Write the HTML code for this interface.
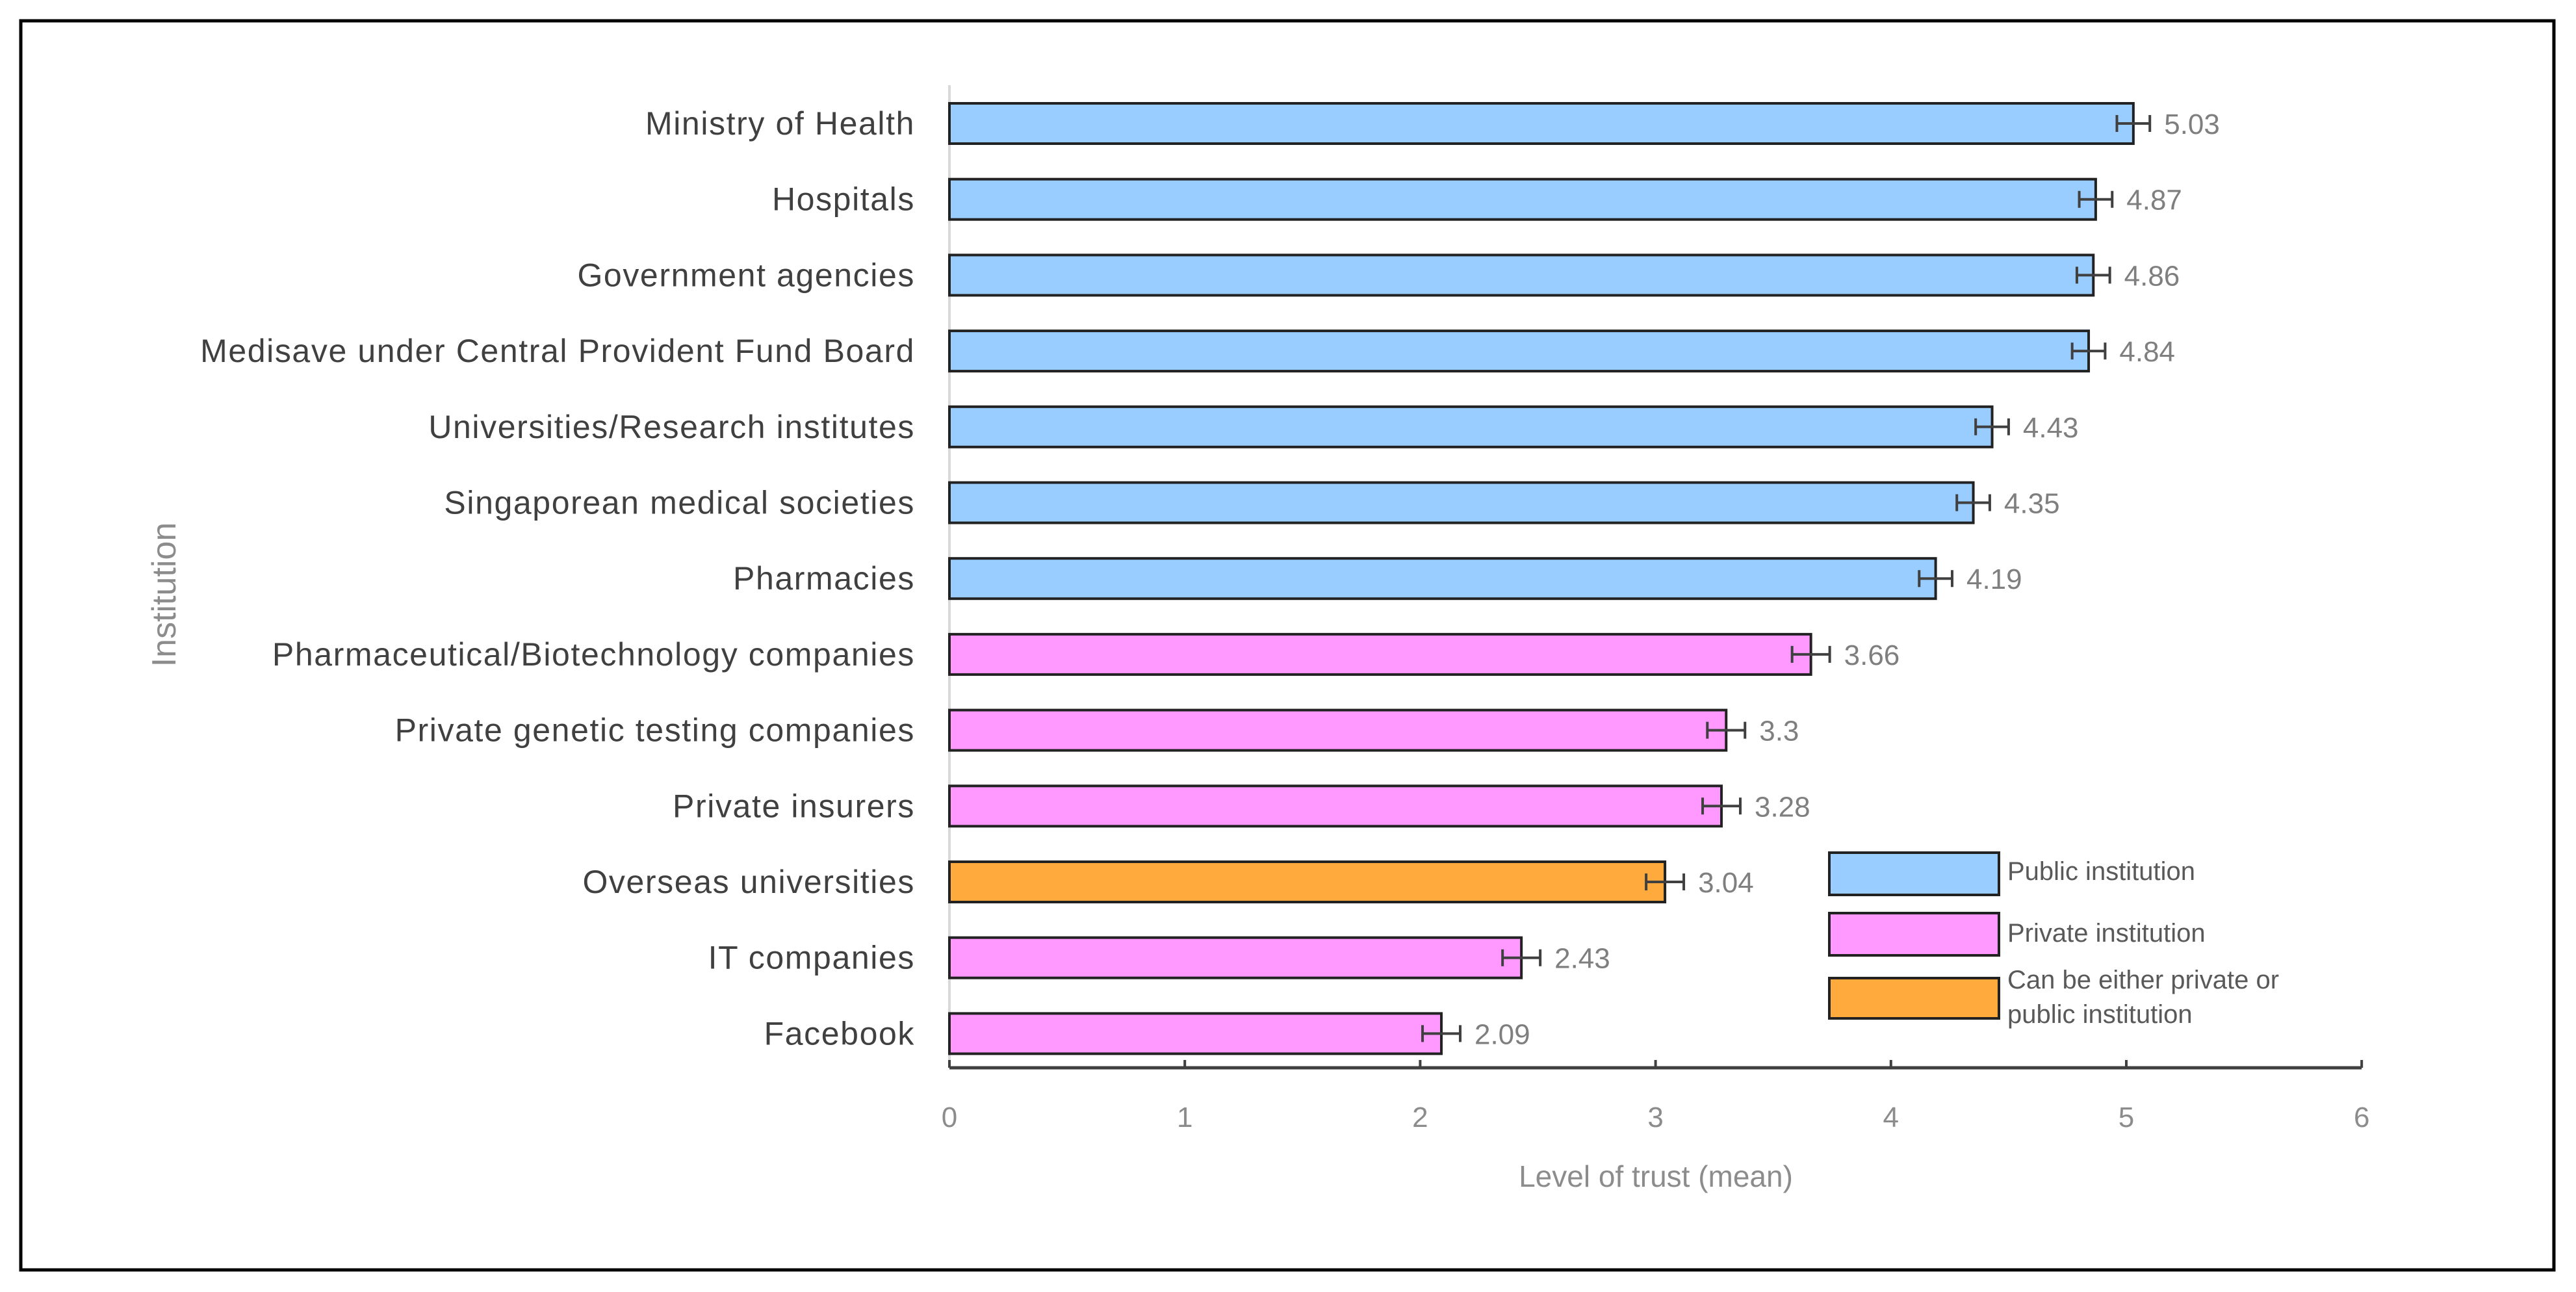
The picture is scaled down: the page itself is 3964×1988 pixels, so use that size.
<!DOCTYPE html>
<html><head><meta charset="utf-8"><style>
html,body{margin:0;padding:0;background:#fff;}
svg{display:block;font-family:"Liberation Sans",sans-serif;}
</style></head><body>
<svg id="chart" width="3964" height="1988" viewBox="0 0 3964 1988" xmlns="http://www.w3.org/2000/svg">
<rect x="32" y="32" width="3898" height="1922" fill="#fff" stroke="#000" stroke-width="5"/>
<g id="plot"></g>
</svg>
<script>
const categories = ["Ministry of Health","Hospitals","Government agencies","Medisave under Central Provident Fund Board","Universities/Research institutes","Singaporean medical societies","Pharmacies","Pharmaceutical/Biotechnology companies","Private genetic testing companies","Private insurers","Overseas universities","IT companies","Facebook"];
const values = [5.03,4.87,4.86,4.84,4.43,4.35,4.19,3.66,3.3,3.28,3.04,2.43,2.09];
const valueLabels = ["5.03","4.87","4.86","4.84","4.43","4.35","4.19","3.66","3.3","3.28","3.04","2.43","2.09"];
const errors = [0.07,0.07,0.07,0.07,0.07,0.07,0.07,0.08,0.08,0.08,0.08,0.08,0.08];
const groups = ["public","public","public","public","public","public","public","private","private","private","either","private","private"];
const xTicks = [0,1,2,3,4,5,6];
const legendLabels = [["Public institution"],["Private institution"],["Can be either private or","public institution"]];
const legendGroups = ["public","private","either"];

const NS="http://www.w3.org/2000/svg";
const colors={public:"#99CCFF",private:"#FF99FF",either:"#FFAA3C"};
const x0=1461, xPer=362.2, axisY=1643, yTop=131, rowStart=190, rowStep=116.7, barH=62;
const xs=v=>x0+v*xPer;
const ys=i=>rowStart+i*rowStep;
const g=document.getElementById('plot');
function mk(tag,attrs,parent){const e=document.createElementNS(NS,tag);for(const k in attrs)e.setAttribute(k,attrs[k]);(parent||g).appendChild(e);return e;}

const ya=mk('line',{x1:x0,y1:yTop,x2:x0,y2:axisY,stroke:"#d9d9d9","stroke-width":4});



categories.forEach((c,i)=>{
  const cy=ys(i);
  const r=mk('rect',{x:x0,y:cy-barH/2,width:xs(values[i])-x0,height:barH,fill:colors[groups[i]],stroke:"#222","stroke-width":4});
  
  
  const t=mk('text',{x:1408,y:cy+17,"text-anchor":"end","font-size":50,"letter-spacing":1.6,fill:"#404040"});
  t.textContent=c;
  
  
  const lo=xs(values[i]-errors[i]), hi=xs(values[i]+errors[i]);
  const eb=mk('path',{d:`M${lo},${cy}H${hi}M${lo},${cy-13}V${cy+13}M${hi},${cy-13}V${cy+13}`,stroke:"#404040","stroke-width":4,fill:"none"});
  
  
  const vl=mk('text',{x:hi+22,y:cy+16,"font-size":44,fill:"#7f7f7f"});
  vl.textContent=valueLabels[i];
  
  
});

const xa=mk('line',{x1:x0,y1:axisY,x2:xs(6),y2:axisY,stroke:"#404040","stroke-width":5});


xTicks.forEach(v=>{
  const tk=mk('line',{x1:xs(v),y1:axisY-12,x2:xs(v),y2:axisY,stroke:"#404040","stroke-width":4});
  
  
  const tl=mk('text',{x:xs(v),y:1734,"text-anchor":"middle","font-size":44,fill:"#8c8c8c"});
  tl.textContent=String(v);
  
  
});
const xt=mk('text',{x:2548,y:1826,"text-anchor":"middle","font-size":46,fill:"#8c8c8c"});
xt.textContent="Level of trust (mean)";


const yt=mk('text',{x:0,y:0,"text-anchor":"middle","font-size":52,fill:"#8c8c8c",transform:"translate(270,915) rotate(-90)"});
yt.textContent="Institution";



const legBoxes=[[1312,1377],[1405,1470],[1505,1567]];
const legText=[[1354],[1449],[1521,1574]];
legendGroups.forEach((gname,i)=>{
  const b=mk('rect',{x:2815,y:legBoxes[i][0],width:261,height:legBoxes[i][1]-legBoxes[i][0],fill:colors[gname],stroke:"#222","stroke-width":4});
  
  
  legendLabels[i].forEach((line,j)=>{
    const lt=mk('text',{x:3089,y:legText[i][j],"font-size":40,fill:"#595959"});
    lt.textContent=line;
    
    
  });
});
</script>
</body></html>
